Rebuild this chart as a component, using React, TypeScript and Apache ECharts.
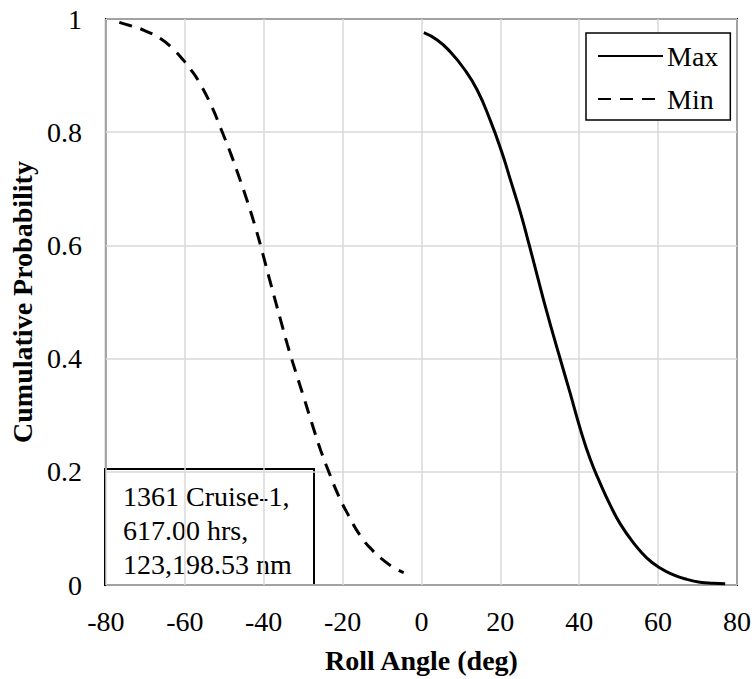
import React, { useEffect, useRef } from "react";
import * as echarts from "echarts";

const maxX = [0.6, 4, 7.3, 10.7, 14.1, 17.5, 20.4, 22.5, 25.1, 27.2, 29.3, 31.8, 34.4, 37.7, 40.3, 42.8, 45.3, 47.8, 50.4, 53.7, 57.1, 60.5, 63.9, 67.3, 70.6, 74, 77];
const maxY = [0.976, 0.963, 0.942, 0.913, 0.875, 0.82, 0.764, 0.717, 0.658, 0.604, 0.548, 0.482, 0.418, 0.339, 0.275, 0.222, 0.18, 0.142, 0.108, 0.075, 0.048, 0.03, 0.018, 0.01, 0.005, 0.003, 0.002];

const minX = [-76.6, -73.7, -70.3, -66.1, -63.1, -60.2, -58.5, -56.4, -53.4, -50.9, -48.4, -46.3, -44.1, -41.8, -40.1, -38.7, -37.0, -35.7, -34.0, -31.5, -29.8, -27.7, -25.6, -23.5, -20.9, -18.8, -15.4, -12.1, -9.5, -6.6, -4.5];
const minY = [0.994, 0.988, 0.98, 0.965, 0.948, 0.926, 0.911, 0.889, 0.849, 0.807, 0.763, 0.722, 0.677, 0.625, 0.582, 0.545, 0.501, 0.468, 0.425, 0.368, 0.331, 0.284, 0.239, 0.2, 0.156, 0.127, 0.086, 0.059, 0.043, 0.029, 0.022];

const seriesNames = ["Max", "Min"];
const xRange = { min: -80, max: 80, interval: 20 };
const yRange = { min: 0, max: 1, interval: 0.2 };
const xTitle = "Roll Angle (deg)";
const yTitle = "Cumulative Probability";
const noteLines = ["1361 Cruise-1,", "617.00 hrs,", "123,198.53 nm"];

const FONT = "Liberation Serif, Times New Roman, serif";

export default function App() {
  const ref = useRef<HTMLDivElement>(null);
  useEffect(() => {
    if (!ref.current) return;
    const chart = echarts.init(ref.current, undefined, { renderer: "svg" });
    const zip = (xs: number[], ys: number[]) => xs.map((x, i) => [x, ys[i]]);
    chart.setOption({
      animation: false,
      backgroundColor: "#fff",
      textStyle: { fontFamily: FONT },
      grid: {
        left: 105,
        right: 17,
        top: 19,
        bottom: 94,
        show: true,
        borderColor: "#000",
        borderWidth: 2,
        containLabel: false,
      },
      legend: {
        orient: "vertical",
        left: 586,
        top: 33,
        padding: [8, 12, 6, 11],
        itemGap: 13,
        itemWidth: 65,
        itemHeight: 14,
        backgroundColor: "#fff",
        borderColor: "#000",
        borderWidth: 1.5,
        borderRadius: 0,
        itemStyle: { opacity: 0, color: "rgba(0,0,0,0)", borderColor: "rgba(0,0,0,0)", borderWidth: 0 },
        textStyle: { fontFamily: FONT, fontSize: 28, color: "#000", padding: [0, 0, 0, -1], lineHeight: 30 },
        data: seriesNames,
      },
      xAxis: {
        type: "value",
        min: xRange.min,
        max: xRange.max,
        interval: xRange.interval,
        name: xTitle,
        nameLocation: "middle",
        nameGap: 61,
        nameTextStyle: { fontFamily: FONT, fontSize: 28, fontWeight: "bold", color: "#000" },
        axisLine: { show: false },
        axisTick: { show: false },
        axisLabel: { fontFamily: FONT, fontSize: 28, color: "#000", margin: 22 },
        splitLine: { show: true, lineStyle: { color: "#d9d9d9", width: 1.5 } },
      },
      yAxis: {
        type: "value",
        min: yRange.min,
        max: yRange.max,
        interval: yRange.interval,
        name: yTitle,
        nameLocation: "middle",
        nameGap: 69,
        nameTextStyle: { fontFamily: FONT, fontSize: 28, fontWeight: "bold", color: "#000" },
        axisLine: { show: false },
        axisTick: { show: false },
        axisLabel: { fontFamily: FONT, fontSize: 28, color: "#000", margin: 24 },
        splitLine: { show: true, lineStyle: { color: "#d9d9d9", width: 1.5 } },
      },
      series: [
        {
          name: seriesNames[0],
          type: "line",
          data: zip(maxX, maxY),
          smooth: 0.5,
          symbol: "none",
          lineStyle: { color: "#000", width: 3, type: "solid" },
          itemStyle: { color: "#000" },
          z: 3,
        },
        {
          name: seriesNames[1],
          type: "line",
          data: zip(minX, minY),
          smooth: 0.5,
          symbol: "none",
          lineStyle: { color: "#000", width: 3, type: [13, 9] },
          itemStyle: { color: "#000" },
          z: 3,
        },
      ],
      graphic: [
        {
          type: "group",
          z: 100,
          children: [
            {
              type: "rect",
              shape: { x: 105, y: 469, width: 209, height: 116 },
              style: { fill: "#fff", stroke: "#000", lineWidth: 2 },
            },
            {
              type: "text",
              x: 123,
              y: 479,
              style: {
                text: noteLines.join("\n"),
                font: `28px ${FONT}`,
                lineHeight: 34,
                fill: "#000",
                textVerticalAlign: "top",
              },
            },
          ],
        },
      ],
    });
    return () => chart.dispose();
  }, []);
  return (
    <div
      ref={ref}
      style={{ position: "fixed", left: 0, top: 0, width: 754, height: 679, background: "#fff" }}
    />
  );
}
